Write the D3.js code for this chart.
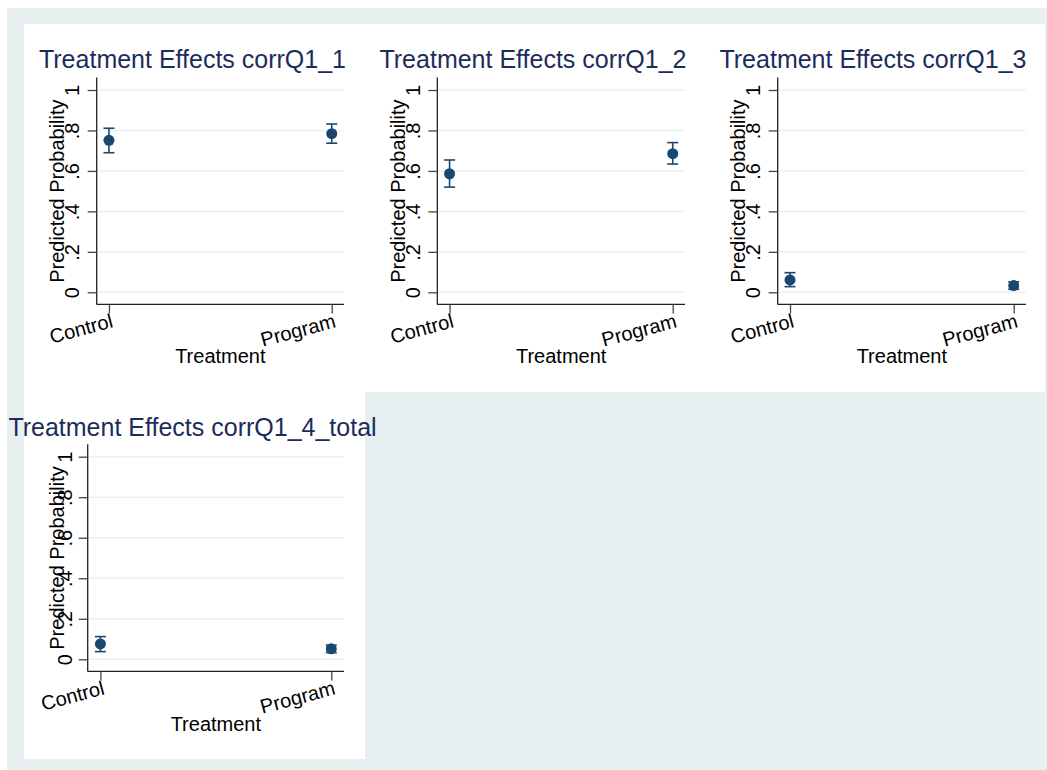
<!DOCTYPE html>
<html lang="en">
<head>
    <meta charset="utf-8">
    <title>Treatment Effects</title>
    <script src="https://d3js.org/d3.v7.min.js" charset="utf-8"></script>
    <style type="text/css">
        body { margin: 0; background: #ffffff; }
        svg { display: block; }
        text { font-family: "Liberation Sans", Arial, Helvetica, sans-serif; }
    </style>
</head>
<body>
    <script type="text/javascript">
        // values
        var panelTitles = ["Treatment Effects corrQ1_1", "Treatment Effects corrQ1_2",
                           "Treatment Effects corrQ1_3", "Treatment Effects corrQ1_4_total"];
        var categories = ["Control", "Program"];
        var estimates = [[0.751, 0.784], [0.586, 0.685], [0.061, 0.033], [0.076, 0.052]];
        var lowerCI   = [[0.690, 0.737], [0.520, 0.634], [0.028, 0.015], [0.038, 0.033]];
        var upperCI   = [[0.811, 0.832], [0.654, 0.740], [0.097, 0.052], [0.112, 0.070]];
        var yTicks = [0, 0.2, 0.4, 0.6, 0.8, 1];
        var yTickLabels = ["0", ".2", ".4", ".6", ".8", "1"];
        var xTitle = "Treatment";
        var yTitle = "Predicted Probability";

        // panel boxes (graph region) and plot regions, in pixels
        var panels = [
            {x0: 24,  x1: 365,  y0: 24,  y1: 392, pl: 96.7,  pr: 344,  pt: 90,    pb: 292.3, lab: -17.5},
            {x0: 365, x1: 705,  y0: 24,  y1: 392, pl: 437.3, pr: 685,  pt: 90,    pb: 292.3, lab: -17.5},
            {x0: 705, x1: 1045, y0: 24,  y1: 392, pl: 777.7, pr: 1026, pt: 90,    pb: 292.3, lab: -17.5},
            {x0: 24,  x1: 365,  y0: 392, y1: 759, pl: 87.7,  pr: 344,  pt: 456.7, pb: 659.3, lab: -16}
        ];

        var w = 1047, h = 770;
        var navy = "#1a476f";
        var svg = d3.select("body").append("svg")
            .attr("width", w)
            .attr("height", h);

        svg.append("rect")
            .attr("x", 7).attr("y", 8)
            .attr("width", w - 7).attr("height", h - 8)
            .attr("fill", "#e8eff1");

        panels.forEach(function(p, k) {
            var g = svg.append("g");

            g.append("rect")
                .attr("x", p.x0).attr("y", p.y0)
                .attr("width", p.x1 - p.x0).attr("height", p.y1 - p.y0)
                .attr("fill", "#ffffff");

            var x = d3.scaleLinear().domain([-0.055, 1.055]).range([p.pl, p.pr]);
            var y = d3.scaleLinear().domain([0, 1]).range([p.pb, p.pt]);
            var yMin = -0.06, yMax = 1.062;

            // grid
            g.selectAll("line.grid")
                .data(yTicks)
                .enter()
                .append("line")
                .attr("class", "grid")
                .attr("x1", p.pl).attr("x2", p.pr)
                .attr("y1", function(d) { return y(d); })
                .attr("y2", function(d) { return y(d); })
                .attr("stroke", "#eaf0f3")
                .attr("stroke-width", 1.5);

            // y axis
            var yAxis = d3.axisLeft(y)
                .tickValues(yTicks)
                .tickFormat(function(d, i) { return yTickLabels[i]; })
                .tickSize(9)
                .tickSizeOuter(0);
            var ya = g.append("g")
                .attr("transform", "translate(" + p.pl + ",0)")
                .call(yAxis);
            ya.select(".domain")
                .attr("d", "M0," + y(yMin) + "V" + y(yMax))
                .attr("stroke", "#222").attr("stroke-width", 1.3);
            ya.selectAll(".tick line").attr("stroke", "#444").attr("stroke-width", 1.3);
            ya.selectAll(".tick text")
                .attr("transform", "rotate(-90)")
                .attr("x", 0)
                .attr("y", p.lab)
                .attr("dy", 0)
                .attr("text-anchor", "middle")
                .attr("font-size", "20px")
                .attr("font-family", "Liberation Sans, Arial, sans-serif")
                .attr("fill", "#000");

            // x axis
            var xAxis = d3.axisBottom(x)
                .tickValues([0, 1])
                .tickFormat(function(d) { return categories[d]; })
                .tickSize(9)
                .tickSizeOuter(0);
            var xa = g.append("g")
                .attr("transform", "translate(0," + y(yMin) + ")")
                .call(xAxis);
            xa.select(".domain")
                .attr("d", "M" + p.pl + ",0H" + p.pr)
                .attr("stroke", "#222").attr("stroke-width", 1.3);
            xa.selectAll(".tick line").attr("stroke", "#444").attr("stroke-width", 1.3);
            xa.selectAll(".tick text")
                .attr("transform", "translate(1,9) rotate(-15)")
                .attr("x", 0)
                .attr("y", 0)
                .attr("dy", "0.7em")
                .attr("text-anchor", "end")
                .attr("font-size", "20px")
                .attr("font-family", "Liberation Sans, Arial, sans-serif")
                .attr("fill", "#000");

            // titles
            g.append("text")
                .attr("x", (p.x0 + p.x1) / 2 - 2)
                .attr("y", p.y0 + 44)
                .attr("text-anchor", "middle")
                .attr("font-size", "25px")
                .attr("fill", "#1c2d5a")
                .text(panelTitles[k]);

            g.append("text")
                .attr("x", (p.pl + p.pr) / 2)
                .attr("y", p.y0 + 339)
                .attr("text-anchor", "middle")
                .attr("font-size", "20px")
                .attr("fill", "#000")
                .text(xTitle);

            g.append("text")
                .attr("transform", "translate(" + (p.x0 + 39.5) + "," + ((y(0) + y(1)) / 2) + ") rotate(-90)")
                .attr("text-anchor", "middle")
                .attr("font-size", "20px")
                .attr("fill", "#000")
                .text(yTitle);

            // error bars and points
            var rows = categories.map(function(c, i) {
                return {i: i, est: estimates[k][i], lo: lowerCI[k][i], hi: upperCI[k][i]};
            });

            var bars = g.selectAll("g.bar")
                .data(rows)
                .enter()
                .append("g")
                .attr("class", "bar");

            bars.append("line")
                .attr("x1", function(d) { return x(d.i); })
                .attr("x2", function(d) { return x(d.i); })
                .attr("y1", function(d) { return y(d.lo); })
                .attr("y2", function(d) { return y(d.hi); })
                .attr("stroke", navy).attr("stroke-width", 1.6);

            ["lo", "hi"].forEach(function(key) {
                bars.append("line")
                    .attr("x1", function(d) { return x(d.i) - 5.5; })
                    .attr("x2", function(d) { return x(d.i) + 5.5; })
                    .attr("y1", function(d) { return y(d[key]); })
                    .attr("y2", function(d) { return y(d[key]); })
                    .attr("stroke", navy).attr("stroke-width", 1.6);
            });

            bars.append("circle")
                .attr("cx", function(d) { return x(d.i); })
                .attr("cy", function(d) { return y(d.est); })
                .attr("r", 5.5)
                .attr("fill", navy);
        });
    </script>
</body>
</html>
